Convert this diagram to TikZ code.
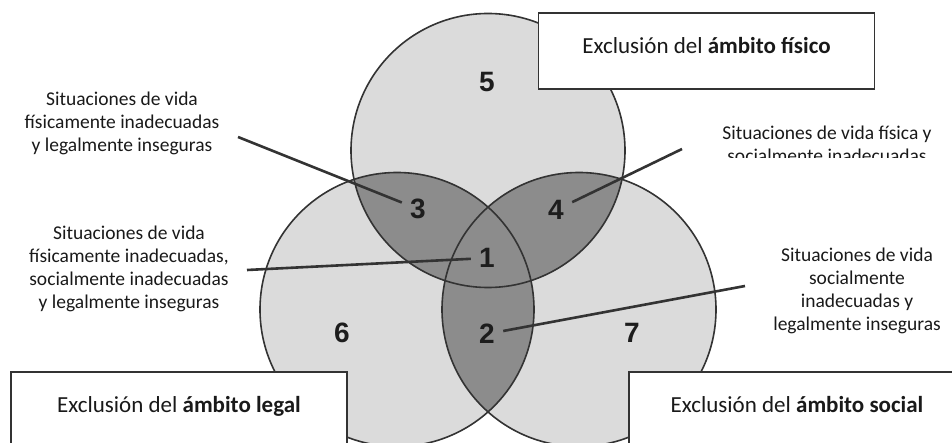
\documentclass[tikz,border=0pt]{standalone}
\usepackage{fontspec}
\setmainfont{Carlito}
\newfontfamily\numfont{Liberation Sans}
\usepackage{tikz}
\usetikzlibrary{positioning}
\definecolor{lineGray}{gray}{0.2}
\definecolor{lightFill}{gray}{0.86}
\definecolor{darkFill}{gray}{0.55}
\definecolor{textBlack}{gray}{0.1}

\tikzset{
    zone/.style={font=\numfont\bfseries\fontsize{28}{30}\selectfont, text=textBlack!85!lineGray, inner sep=0pt, minimum width=32pt, minimum height=26pt},
    situ/.style={font=\fontsize{19.5}{23}\selectfont, text=textBlack, align=center, inner sep=0pt},
    pointer/.style={lineGray, line width=2.6pt},
    exbox/.style={draw=lineGray, line width=1.8pt, fill=white, minimum width=336pt, inner xsep=0pt, inner ysep=23.5pt, text height=17pt, text depth=12pt, font=\fontsize{23}{26}\selectfont, text=textBlack}
}

\begin{document}
\begin{tikzpicture}[x=1pt, y=-1pt]
        \useasboundingbox (0,0) rectangle (952,443);
        \clip (0,0) rectangle (952,443);
        \coordinate (cTop) at (488,150.5);
        \coordinate (cLeft) at (397,309.5);
        \coordinate (cRight) at (579,309.5);
        \foreach \c in {cTop, cLeft, cRight} {
            \fill[lightFill] (\c) circle (137pt);
        }
        \begin{scope}
            \clip (cTop) circle (137pt);
            \fill[darkFill] (cLeft) circle (137pt) (cRight) circle (137pt);
        \end{scope}
        \begin{scope}
            \clip (cLeft) circle (137pt);
            \fill[darkFill] (cRight) circle (137pt);
        \end{scope}
        \foreach \c in {cTop, cLeft, cRight} {
            \draw[lineGray, line width=1.6pt] (\c) circle (137pt);
        }

        \node[zone] (n5) at (487,82) {5};
        \node[zone] (n3) at (418,209) {3};
        \node[zone] (n4) at (556,210) {4};
        \node[zone] (n1) at (487,258) {1};
        \node[zone] (n2) at (487,334) {2};
        \node[zone] (n6) at (342,333) {6};
        \node[zone] (n7) at (632,333) {7};

        \node[situ] (lbl3) at (122,123) {Situaciones de vida\\físicamente inadecuadas\\y legalmente inseguras};
        \node[situ] (lbl1) at (129,269) {Situaciones de vida\\físicamente inadecuadas,\\socialmente inadecuadas\\y legalmente inseguras};
        \node[situ] (lbl2) at (857,291) {Situaciones de vida\\socialmente\\inadecuadas y\\legalmente inseguras};
        \begin{scope}
            \clip (700,100) rectangle (952,158);
            \node[situ] (lbl4) at (827,144) {Situaciones de vida física y\\socialmente inadecuadas};
        \end{scope}

        \coordinate (p3) at (238,137);
        \coordinate (p1) at (247,270);
        \coordinate (p4) at (682,149);
        \coordinate (p2) at (745,286);
        \draw[pointer] (p3) -- (n3);
        \draw[pointer] (p1) -- (n1);
        \draw[pointer] (p4) -- (n4);
        \draw[pointer] (p2) -- (n2);

        \node[exbox] (boxFis) at (706.5,51) {Exclusión del \textbf{ámbito físico}};
        \node[exbox] (boxLeg) at (179,410) {Exclusión del \textbf{ámbito legal}};
        \node[exbox] (boxSoc) at (797,410) {Exclusión del \textbf{ámbito social}};
    \end{tikzpicture}
\end{document}
